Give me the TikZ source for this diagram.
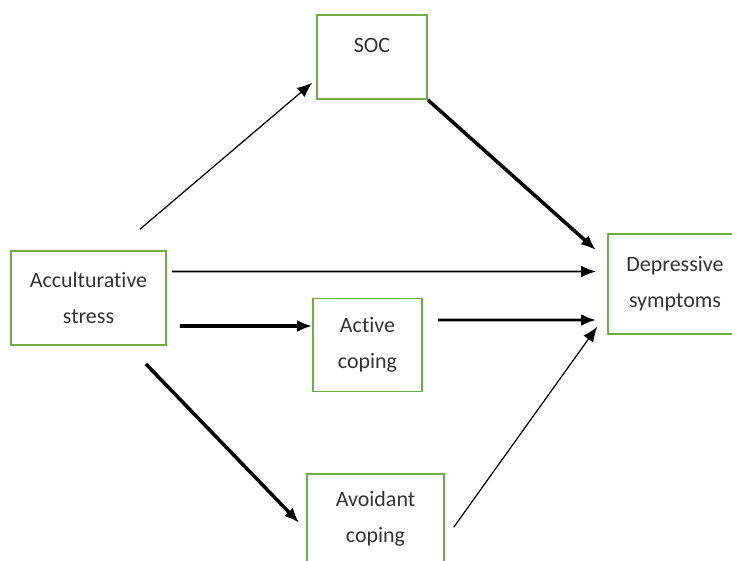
\documentclass[tikz,border=0pt]{standalone}
\usepackage{fontspec}
\setmainfont{Carlito}[Ligatures=NoCommon]
\usetikzlibrary{arrows.meta}
\definecolor{boxgreen}{RGB}{112,173,71}
\begin{document}
\begin{tikzpicture}[x=.02cm,y=-.02cm,
    var/.style={draw=boxgreen,line width=1.1pt,align=center,inner sep=0pt,
      font=\fontsize{12.5}{20.5}\selectfont,text=black!80},
    path/.style={-{Latex[length=.3cm,width=.24cm]}}]
  \useasboundingbox (0,0) rectangle (732,560); \clip (0,0) rectangle (732,560);
  % variables
  \node[var,minimum width=2.2cm,minimum height=1.68cm,text height=8pt,
  text depth=13.6pt] (soc) at (372,57) {SOC};
  \node[var,minimum width=3.1cm,minimum height=1.88cm] (acc) at (88.5,298)
  {Acculturative\\stress}; \node[var,minimum width=2.18cm,minimum
  height=1.86cm] (active) at (367.5,345) {Active\\coping};
  \node[var,minimum width=2.74cm,minimum height=1.8cm] (avoid) at
  (375.5,519) {Avoidant\\coping}; \node[var,minimum width=2.68cm,minimum
  height=2cm] (dep) at (675,284) {Depressive\\symptoms};
  % paths
  \draw[path,line width=.7pt,shorten <=.64cm,shorten >=.1cm]
  ([xshift=.54cm]acc.north) -- ([yshift=-.45cm]soc.west);
  \draw[path,line width=2pt,shorten >=.3cm] (soc.south east) --
  ([yshift=.48cm]dep.west);
  \draw[path,line width=1.1pt,shorten <=.1cm,shorten >=.22cm]
  ([yshift=.53cm]acc.east) -- ([yshift=.25cm]dep.west);
  \draw[path,line width=2.2pt,shorten <=.26cm] ([yshift=-.56cm]acc.east)
  -- ([yshift=.38cm]active.west);
  \draw[path,line width=1.7pt,shorten <=.3cm,shorten >=.22cm]
  ([yshift=.5cm]active.east) -- ([yshift=-.72cm]dep.west);
  \draw[path,line width=2pt,shorten <=.5cm,shorten >=.2cm]
  ([xshift=.8cm]acc.south) -- ([yshift=-.22cm]avoid.west);
  \draw[path,line width=.7pt,shorten <=.3cm,shorten >=.34cm]
  ([yshift=-.41cm]avoid.east) -- ([yshift=-.58cm]dep.west);
\end{tikzpicture}
\end{document}
